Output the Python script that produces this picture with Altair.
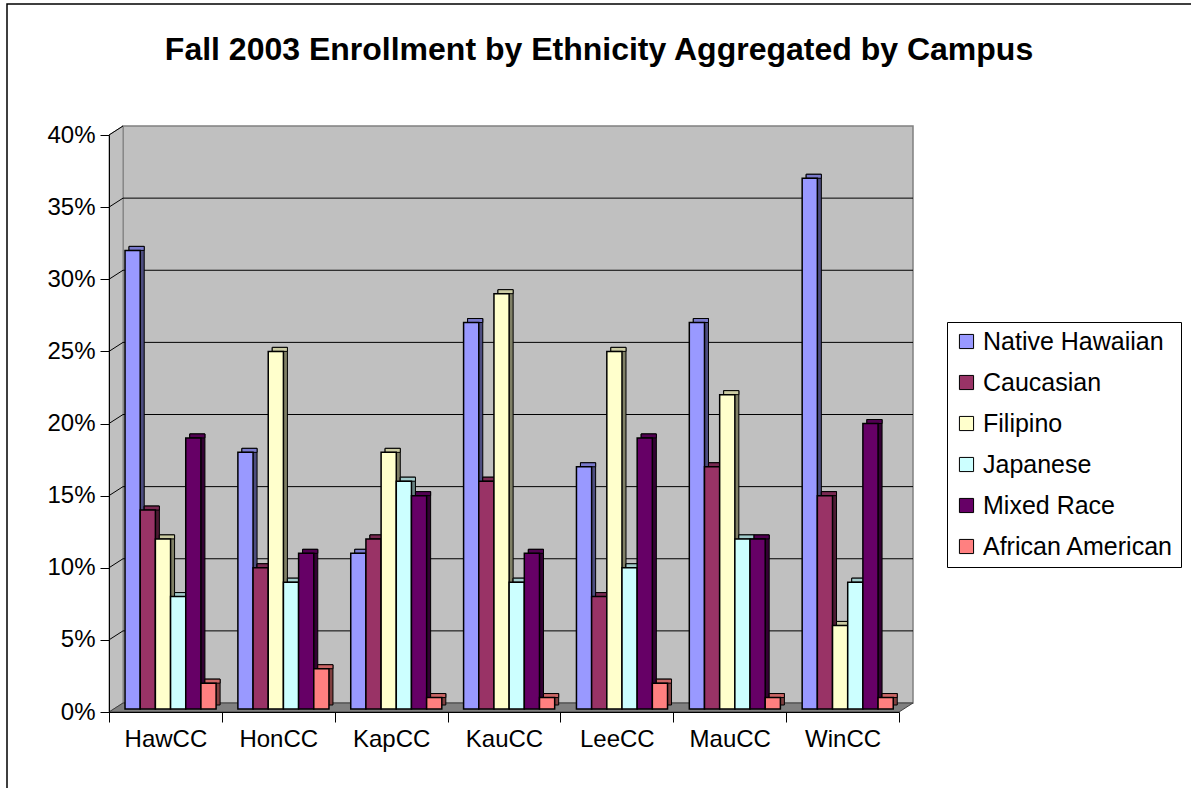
import json

import altair as alt
import pandas as pd

# Enrollment share (%) by campus for each ethnic group
campuses = ["HawCC", "HonCC", "KapCC", "KauCC", "LeeCC", "MauCC", "WinCC"]
series = ["Native Hawaiian", "Caucasian", "Filipino", "Japanese", "Mixed Race", "African American"]

native_hawaiian = [32, 18, 11, 27, 17, 27, 37]
caucasian = [14, 10, 12, 16, 8, 17, 15]
filipino = [12, 25, 18, 29, 25, 22, 6]
japanese = [8, 9, 16, 9, 10, 12, 9]
mixed_race = [19, 11, 15, 11, 19, 12, 20]
african_american = [2, 3, 1, 1, 2, 1, 1]

y_ticks = [0, 0.05, 0.10, 0.15, 0.20, 0.25, 0.30, 0.35, 0.40]

# Face colours of the pseudo-3D columns
front_colors = ["#9999FF", "#993366", "#FFFFCC", "#CCFFFF", "#660066", "#FF8080"]
top_colors = ["#7A7ACC", "#7A2952", "#CCCCA3", "#A3CCCC", "#520052", "#CC6666"]
side_colors = ["#4D4D80", "#4D1A33", "#808066", "#668080", "#330033", "#804040"]

FONT = "Liberation Sans"
W, H = 790, 577              # front plane of the plot, px
N = len(campuses)
UX = N / W                   # category units per px
UY = 0.40 / H                # fraction units per px
DX, DY = 14 * UX, 9 * UY     # depth of the walls
BDX, BDY = 4, 4              # depth of each column, px
PAD, BW = 0.142, 0.1345      # group inset and column width, category units

values_by_series = [native_hawaiian, caucasian, filipino, japanese, mixed_race, african_american]
rows = []
for j, (name, vals) in enumerate(zip(series, values_by_series)):
    for i, (campus, v) in enumerate(zip(campuses, vals)):
        x0 = i + PAD + j * BW
        rows.append({"campus": campus, "series": name, "value": v / 100, "x0": x0, "x1": x0 + BW})
df = pd.DataFrame(rows)

xs = alt.Scale(domain=[0, N], nice=False, zero=False)
ys = alt.Scale(domain=[0, 0.40], nice=False)

y_axis = alt.Axis(
    values=y_ticks, format=".0%", title=None, grid=False,
    labelFont=FONT, labelFontSize=24, labelColor="black", labelPadding=5,
    tickColor="black", tickSize=9, domainColor="black", zindex=1,
)
# campus names sit half a category to the right of the separating ticks
x_axis = alt.Axis(
    values=list(range(N + 1)), title=None, grid=False,
    labelExpr=f"datum.value < {N} ? {json.dumps(campuses)}[datum.value] : ''",
    labelOffset=W / N / 2, labelFlush=False, labelOverlap=False, labelAngle=0,
    labelFont=FONT, labelFontSize=24, labelColor="black", labelPadding=5,
    tickColor="black", tickSize=10, domainColor="black", zindex=1,
)

one = pd.DataFrame({"k": [0]})

# outer frame of the chart
frame = alt.Chart(one).mark_rect(fillOpacity=0, stroke="black", strokeWidth=1.5).encode(
    x=alt.value(-102), x2=alt.value(W + 1000), y=alt.value(-131), y2=alt.value(H + 1000)
)

title = alt.Chart(one).mark_text(
    text="Fall 2003 Enrollment by Ethnicity Aggregated by Campus",
    font=FONT, fontSize=32, fontWeight="bold", color="black",
    align="center", baseline="alphabetic",
).encode(x=alt.value(490), y=alt.value(-75))

back_wall = alt.Chart(one).mark_rect(fill="#C0C0C0", stroke="#808080", strokeWidth=1.5).encode(
    x=alt.datum(DX), x2=alt.datum(N + DX),
    y=alt.datum(0.40 + DY), y2=alt.datum(DY),
)

left_wall_df = pd.DataFrame({"x": [0, DX], "top": [0.40, 0.40 + DY], "bot": [0, DY]})
left_wall = alt.Chart(left_wall_df).mark_area(fill="#C0C0C0", stroke="#808080", strokeWidth=1).encode(
    x=alt.X("x:Q", scale=xs, axis=x_axis),
    y=alt.Y("top:Q", scale=ys, axis=y_axis),
    y2="bot:Q",
)

floor_df = pd.DataFrame({"x": [0, DX, N, N + DX], "top": [0, DY, DY, DY], "bot": [0, 0, 0, DY]})
floor = alt.Chart(floor_df).mark_area(fill="#808080", stroke="#404040", strokeWidth=1).encode(
    x=alt.X("x:Q", scale=xs, axis=x_axis),
    y=alt.Y("top:Q", scale=ys, axis=y_axis),
    y2="bot:Q",
)

grid_df = pd.DataFrame({"v": y_ticks[1:-1]})
grid = alt.Chart(grid_df).mark_rule(color="black", strokeWidth=1, yOffset=-9).encode(
    x=alt.datum(DX), x2=alt.datum(N + DX),
    y=alt.Y("v:Q", scale=ys, axis=y_axis),
)

diag_df = pd.DataFrame({"v": y_ticks[1:]})
diag = alt.Chart(diag_df).mark_rule(color="black", strokeWidth=1, y2Offset=-9).encode(
    x=alt.datum(0), x2=alt.datum(DX),
    y=alt.Y("v:Q", scale=ys, axis=y_axis),
    y2="v:Q",
)

base = alt.Chart(df)
enc_x = alt.X("x0:Q", scale=xs, axis=x_axis)
enc_y = alt.Y("value:Q", scale=ys, axis=y_axis)

side = base.mark_rect(
    stroke="black", strokeWidth=1, xOffset=BDX, x2Offset=BDX, yOffset=-BDY, y2Offset=-3 - BDY
).encode(
    x=enc_x, x2="x1:Q", y=enc_y, y2=alt.datum(0),
    color=alt.Color("series:N", scale=alt.Scale(domain=series, range=side_colors), legend=None),
)

top = base.mark_rect(
    stroke="black", strokeWidth=1, xOffset=BDX, x2Offset=BDX, yOffset=-BDY, y2Offset=0
).encode(
    x=enc_x, x2="x1:Q", y=enc_y, y2="value:Q",
    color=alt.Color("series:N", scale=alt.Scale(domain=series, range=top_colors), legend=None),
)

front = base.mark_rect(stroke="black", strokeWidth=1.5, y2Offset=-3).encode(
    x=enc_x, x2="x1:Q", y=enc_y, y2=alt.datum(0),
    color=alt.Color(
        "series:N",
        scale=alt.Scale(domain=series, range=front_colors),
        legend=alt.Legend(
            title=None, orient="none", legendX=838, legendY=187, direction="vertical",
            symbolType="square", symbolSize=200, symbolStrokeColor="black", symbolStrokeWidth=1,
            symbolOpacity=1,
            labelFont=FONT, labelFontSize=25, labelColor="black", labelOffset=4, labelLimit=0,
            rowPadding=15, padding=7, strokeColor="black", fillColor="white",
        ),
    ),
)

chart = alt.layer(
    frame, title, back_wall, left_wall, floor, grid, diag, side, top, front
).resolve_scale(color="independent").properties(
    width=W, height=H, autosize="none",
    padding={"left": 109, "top": 135, "right": 292, "bottom": 76},
    background="white",
).configure_view(strokeWidth=0)

chart.save("out.html", embed_options={"renderer": "svg", "actions": False})
